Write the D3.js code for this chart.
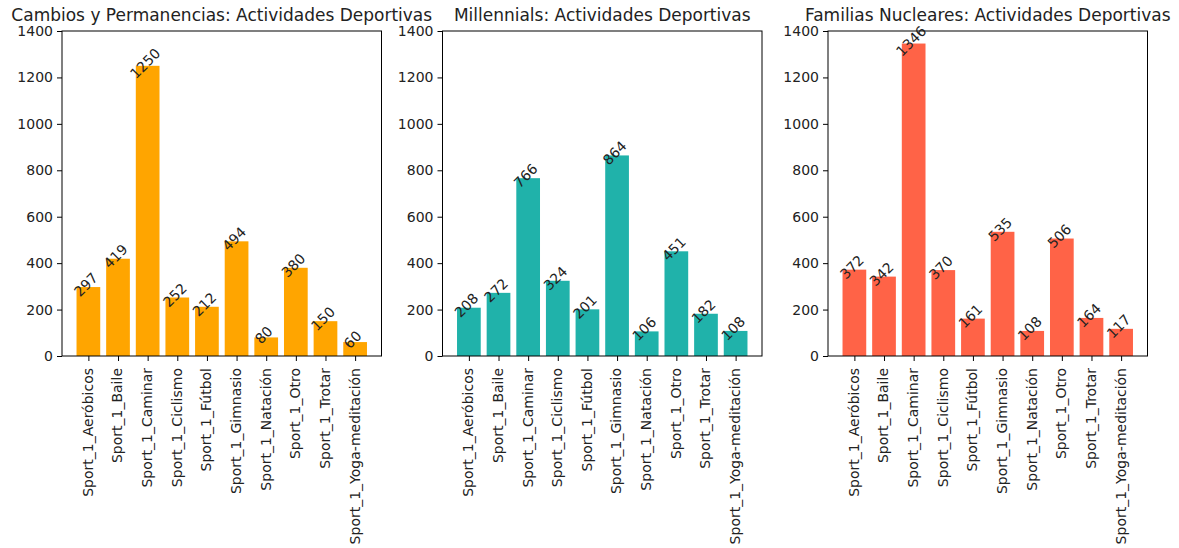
<!DOCTYPE html>
<html><head><meta charset="utf-8">
<script src="https://cdn.jsdelivr.net/npm/d3@7"></script>
<style>body{margin:0;background:#fff}svg{display:block}text{font-family:"DejaVu Sans",sans-serif;fill:#222}</style>
</head><body><svg id="c" width="1179" height="548"></svg>
<script>
const categories = ["Sport_1_Aeróbicos","Sport_1_Baile","Sport_1_Caminar","Sport_1_Ciclismo","Sport_1_Fútbol","Sport_1_Gimnasio","Sport_1_Natación","Sport_1_Otro","Sport_1_Trotar","Sport_1_Yoga-meditación"];
const cambiosValues = [297,419,1250,252,212,494,80,380,150,60];
const millennialsValues = [208,272,766,324,201,864,106,451,182,108];
const familiasValues = [372,342,1346,370,161,535,108,506,164,117];
const titles = ["Cambios y Permanencias: Actividades Deportivas","Millennials: Actividades Deportivas","Familias Nucleares: Actividades Deportivas"];
const colors = ["#FFA500","#20B2AA","#FF6347"];
const yTicks = [0,200,400,600,800,1000,1200,1400];

(function(){
const panels = [
  {left:62, values:cambiosValues},
  {left:442.5, values:millennialsValues},
  {left:828, values:familiasValues}
];
const W = 319.5, plotTop = 31, plotBottom = 356;
const svg = d3.select("#c");

panels.forEach((p,pi)=>{
  const g = svg.append("g").attr("transform",`translate(${p.left},0)`);
  const x = d3.scaleLinear().domain([-0.89, 9.89]).range([0, W]);
  const y = d3.scaleLinear().domain([0,1400]).range([plotBottom, plotTop]);
  const bw = x(0.8) - x(0);
  g.selectAll("rect.bar").data(p.values).enter().append("rect")
    .attr("x",(d,i)=>x(i-0.4)).attr("width",bw)
    .attr("y",d=>y(d)).attr("height",d=>y(0)-y(d))
    .attr("fill",colors[pi]);
  const ya = d3.axisLeft(y).tickValues(yTicks).tickSize(5).tickPadding(4).tickFormat(d3.format("d"));
  const yg = g.append("g").call(ya);
  yg.select(".domain").remove();
  yg.selectAll("line").attr("stroke","#000").attr("stroke-width",1);
  yg.selectAll("text").style("font-size","14px").attr("fill","#222");
  const xa = d3.axisBottom(x).tickValues(d3.range(categories.length)).tickSize(5).tickPadding(4).tickFormat(i=>categories[i]);
  const xg = g.append("g").attr("transform",`translate(0,${plotBottom})`).call(xa);
  xg.select(".domain").remove();
  xg.selectAll("line").attr("stroke","#000");
  xg.selectAll("text").style("font-size","14px").attr("fill","#222")
    .attr("text-anchor","end").attr("dy","0.35em").attr("x",0).attr("y",0)
    .attr("transform","translate(-1,12) rotate(-90)");
  g.append("rect").attr("x",0).attr("y",plotTop).attr("width",W).attr("height",plotBottom-plotTop)
    .attr("fill","none").attr("stroke","#000").attr("stroke-width",1);
  g.selectAll("text.val").data(p.values).enter().append("text")
    .attr("class","val")
    .attr("transform",(d,i)=>`translate(${x(i)-2.5},${y(d)-2.5}) rotate(-45)`)
    .attr("text-anchor","middle").attr("dominant-baseline","central")
    .style("font-size","14px").text(d=>d);
  g.append("text").attr("x",W/2).attr("y",20.5).attr("text-anchor","middle")
    .style("font-size","17px").text(titles[pi]);
});
})();
</script></body></html>
